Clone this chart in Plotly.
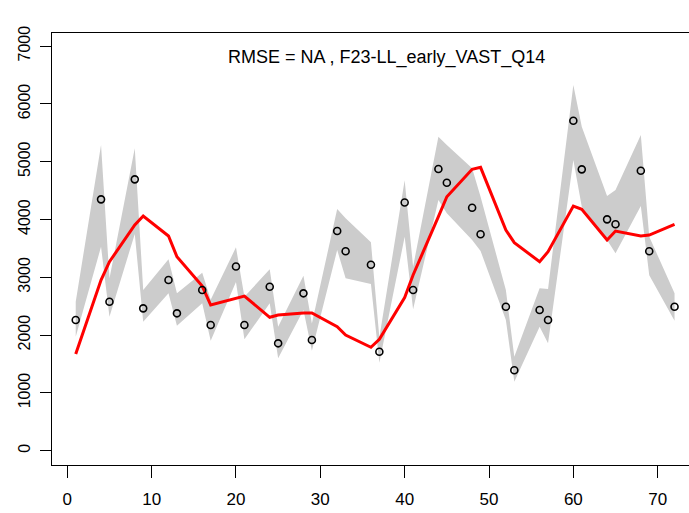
import plotly.graph_objects as go

# Years / time steps
x_vals = [1, 4, 5, 8, 9, 12, 13, 16, 17, 20, 21, 24, 25, 28, 29, 32, 33, 36,
          37, 40, 41, 44, 45, 48, 49, 52, 53, 56, 57, 60, 61, 64, 65, 68, 69, 72]

# Observed index (open circles)
obs = [2261, 4349, 2578, 4695, 2463, 2953, 2377, 2780, 2175, 3187, 2175, 2838,
       1858, 2723, 1915, 3801, 3450, 3218, 1713, 4294, 2780, 4874, 4637, 4204,
       3744, 2491, 1391, 2434, 2261, 5709, 4868, 4003, 3917, 4845, 3450, 2491]

# Uncertainty band (grey polygon)
upper = [2578, 5289, 2980, 5232, 2780, 3311, 2723, 3080, 2610, 3519, 2665, 3138,
         2146, 3028, 2203, 4182, 4020, 3605, 1960, 4680, 3184, 5433, 5289, 4886,
         4394, 2780, 1627, 2810, 2800, 6327, 5606, 4407, 4510, 5462, 3703, 2723]
lower = [1972, 3530, 2320, 3750, 2232, 2723, 2163, 2550, 1903, 2920, 1927, 2550,
         1598, 2434, 1730, 3472, 2983, 2884, 1523, 3700, 2446, 4337, 4107, 3645,
         3456, 2261, 1194, 2146, 1858, 5028, 4221, 3645, 3415, 4233, 3036, 2249]

# Predicted (red line)
pred = [1673, 2953, 3270, 3905, 4060, 3714, 3356, 2849, 2520, 2636, 2676, 2308,
        2348, 2382, 2382, 2146, 2002, 1789, 1927, 2650, 3040, 4049, 4394, 4868,
        4903, 3818, 3599, 3270, 3443, 4233, 4176, 3645, 3801, 3714, 3732, 3917]

x_ticks = [0, 10, 20, 30, 40, 50, 60, 70]
y_ticks = [0, 1000, 2000, 3000, 4000, 5000, 6000, 7000]
title_text = "RMSE = NA , F23-LL_early_VAST_Q14"

fig = go.Figure()
fig.add_trace(go.Scatter(x=x_vals, y=lower, mode="lines", line=dict(width=0, color="rgba(0,0,0,0)"),
                         hoverinfo="skip", showlegend=False))
fig.add_trace(go.Scatter(x=x_vals, y=upper, mode="lines", line=dict(width=0, color="rgba(0,0,0,0)"),
                         fill="tonexty", fillcolor="#cccccc", hoverinfo="skip", showlegend=False))
fig.add_trace(go.Scatter(x=x_vals, y=pred, mode="lines", line=dict(color="#ff0000", width=3),
                         showlegend=False))
fig.add_trace(go.Scatter(x=x_vals, y=obs, mode="markers",
                         marker=dict(symbol="circle-open", size=7, color="black", line=dict(width=1.6)),
                         showlegend=False))

fig.add_annotation(x=37.9, y=6811, xref="x", yref="y", text=title_text, showarrow=False,
                   font=dict(family="Liberation Sans, Arial", size=18, color="black"))

fig.update_layout(
    width=689, height=513,
    margin=dict(l=52, r=0, t=33, b=48),
    paper_bgcolor="white", plot_bgcolor="white",
    font=dict(family="Liberation Sans, Arial", size=16, color="black"),
    xaxis=dict(range=[-1.814, 73.713], tickvals=x_ticks, ticktext=[str(v) for v in x_ticks],
               showgrid=False, zeroline=False, showline=True, linecolor="black", linewidth=1,
               mirror=True, ticks="outside", ticklen=12, tickcolor="black", tickwidth=1,
               ticklabelstandoff=7, tickfont=dict(size=17)),
    yaxis=dict(range=[-247, 7227], tickvals=y_ticks, ticktext=[str(v) for v in y_ticks],
               showgrid=False, zeroline=False, showline=True, linecolor="black", linewidth=1,
               ticks="outside", ticklen=11, tickcolor="black", tickwidth=1, tickangle=-90,
               ticklabelstandoff=4),
)

fig.write_html("out.html")
